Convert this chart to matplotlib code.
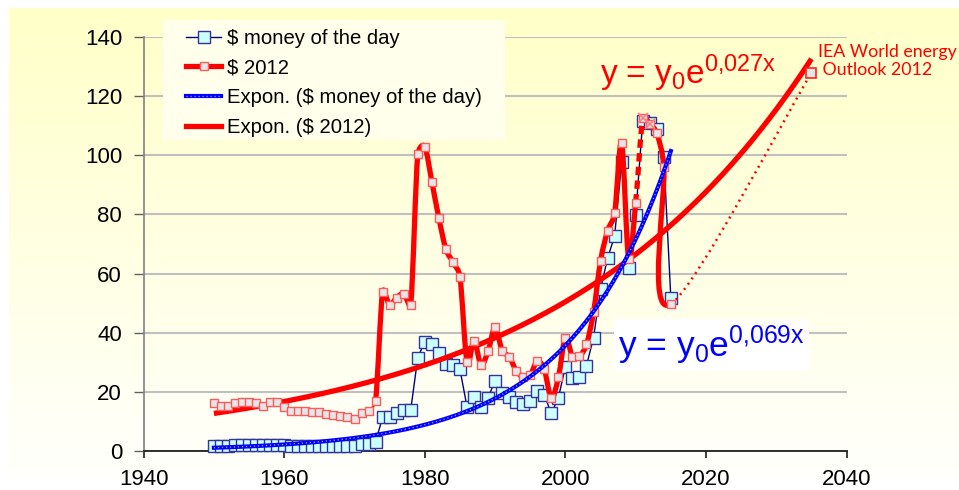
import numpy as np
import matplotlib
matplotlib.use("Agg")
import matplotlib.pyplot as plt
from matplotlib.path import Path
from matplotlib.patches import PathPatch, Rectangle
from matplotlib.lines import Line2D

# ---------------- data ----------------
years = list(range(1950, 2016))
money_of_day = [1.71, 1.71, 1.71, 1.93, 1.93, 1.93, 1.93, 1.90, 2.08, 2.08,
                1.90, 1.80, 1.80, 1.80, 1.80, 1.80, 1.80, 1.80, 1.80, 1.80,
                1.80, 2.24, 2.48, 3.1, 11.4, 11.4, 12.9, 13.9, 13.9, 31.6,
                37.0, 36.1, 33.0, 29.3, 29.1, 27.6, 15.0, 18.4, 15.0, 18.0,
                23.8, 19.7, 18.4, 16.7, 15.9, 17.0, 20.4, 18.9, 12.7, 18.0,
                28.5, 24.6, 24.9, 28.9, 38.3, 54.7, 65.2, 72.7, 97.6, 61.8,
                79.8, 111.7, 111.0, 108.8, 99.3, 51.6]
# $ 2012 series, including the IEA WEO 2012 projection point for 2035
years_2012 = list(range(1950, 2016)) + [2035]
usd_2012 = [16.3, 15.2, 15.2, 16.3, 16.5, 16.5, 16.3, 15.2, 16.7, 16.7,
            15.0, 13.6, 13.6, 13.4, 13.2, 13.2, 12.5, 12.3, 11.8, 11.4,
            10.7, 12.7, 13.6, 17.0, 53.9, 49.4, 51.9, 53.1, 49.5, 100.3,
            102.9, 91.1, 78.7, 68.3, 63.9, 58.9, 30.2, 37.3, 29.1, 33.8,
            41.8, 33.9, 31.9, 27.2, 25.0, 25.7, 30.4, 27.6, 17.8, 24.9,
            38.3, 31.9, 32.1, 36.1, 46.9, 64.3, 74.4, 80.4, 104.1, 65.0,
            84.0, 112.5, 110.7, 107.4, 96.2, 49.7, 127.9]
# exponential trend lines (start value at 1950, growth rate per year)
trend_day_start, trend_day_rate, trend_day_end = 1.1, 0.0696, 2015
trend_2012_start, trend_2012_rate, trend_2012_end = 12.7, 0.0276, 2035

x_ticks = [1940, 1960, 1980, 2000, 2020, 2040]
y_ticks = [0, 20, 40, 60, 80, 100, 120, 140]
legend_labels = ["$ money of the day", "$ 2012",
                 "Expon. ($ money of the day)", "Expon. ($ 2012)"]

# ---------------- figure ----------------
W, H = 959, 490
fig = plt.figure(figsize=(W / 100, H / 100), dpi=100)

# background gradient
bg = np.ones((H, W, 3))
rows = np.arange(H)
t = np.clip((rows - 9) / (475 - 9), 0, 1)
blue_ch = (200 + 52 * t) / 255.0
bg[:, :, 2] = blue_ch[:, None]
bg[:9, :, :] = 1.0
bg[:, :9, :] = 1.0
bg[478:, :, :] = 1.0
bax = fig.add_axes([0, 0, 1, 1], zorder=-10)
bax.imshow(bg, aspect="auto", extent=[0, 1, 0, 1])
bax.set_axis_off()

L, R, T, B = 143.6, 846.6, 37.0, 451.0
ax = fig.add_axes([L / W, (H - B) / H, (R - L) / W, (B - T) / H])
ax.set_facecolor("none")
ax.set_xlim(1940, 2040)
ax.set_ylim(0, 140)
ax.set_xticks(x_ticks)
ax.set_yticks(y_ticks)
font = "Liberation Sans"
for lab in ax.get_xticklabels() + ax.get_yticklabels():
    lab.set_fontfamily(font)
    lab.set_fontsize(16)
ax.tick_params(axis="y", length=7, width=1, color="#606060", pad=8.5)
ax.tick_params(axis="x", length=5, width=1.2, color="#202020", pad=8)
ax.grid(axis="y", color="#C0C0C0", lw=1.5, zorder=0)
ax.set_axisbelow(True)
for s in ["top", "right"]:
    ax.spines[s].set_visible(False)
ax.spines["left"].set_color("#808080")
ax.spines["left"].set_linewidth(1.2)
ax.spines["bottom"].set_color("#202020")
ax.spines["bottom"].set_linewidth(1.3)

# ---------------- $ money of the day ----------------
ax.plot(years, money_of_day, color="#000080", lw=1.0, marker="s", ms=8.6,
        mfc="#CCFFFF", mec="#333399", mew=1.0, zorder=3, clip_on=False)

# ---------------- trend lines ----------------
xd = np.linspace(1950, trend_day_end, 300)
yd = trend_day_start * np.exp(trend_day_rate * (xd - 1950))
xr = np.linspace(1950, trend_2012_end, 300)
yr = trend_2012_start * np.exp(trend_2012_rate * (xr - 1950))
ax.plot(xr, yr, color="#FF0000", lw=3.8, solid_capstyle="butt", zorder=4)
ax.plot(xd, yd, color="#0000FF", lw=3.0, zorder=7)
ax.plot(xd, yd, color="#9999FF", lw=0.9, ls=(0, (1, 2.2)), zorder=7.1)


# ---------------- $ 2012 smoothed line (Bezier, clamped tangents) ----
def smooth_path(xs, ys, i0, i1, k=0.5):
    P = ax.transData.transform(np.column_stack([xs, ys]).astype(float))
    n = len(P)
    inv = ax.transData.inverted()
    arm_out = np.zeros_like(P)
    arm_in = np.zeros_like(P)
    for i in range(n):
        prv = P[max(i - 1, 0)]
        nxt = P[min(i + 1, n - 1)]
        arm = (nxt - prv) / 6.0
        la = np.hypot(*arm)
        dp = np.hypot(*(P[i] - prv))
        dn = np.hypot(*(nxt - P[i]))
        if la > 0:
            arm_out[i] = arm * min(1.0, k * dn / la)
            arm_in[i] = arm * min(1.0, k * dp / la)
    verts = [P[i0]]
    codes = [Path.MOVETO]
    for i in range(i0, i1):
        verts += [P[i] + arm_out[i], P[i + 1] - arm_in[i + 1], P[i + 1]]
        codes += [Path.CURVE4] * 3
    return Path(inv.transform(np.array(verts)), codes)


n2 = len(years_2012)
i1973 = years_2012.index(1973)
i2010 = years_2012.index(2010)
i2011 = years_2012.index(2011)
i2015 = years_2012.index(2015)
segs = [
    (0, i1973, dict(lw=1.4, ls="-")),
    (i1973, i2010, dict(lw=3.8, ls="-")),
    (i2010, i2011, dict(lw=3.8, ls=(0, (1.6, 1.0)))),
    (i2011, i2015, dict(lw=3.8, ls="-")),
    (i2015, n2 - 1, dict(lw=1.8, ls=(0, (0.8, 1.8)))),
]
for a, b, st in segs:
    pp = PathPatch(smooth_path(years_2012, usd_2012, a, b), fill=False,
                   edgecolor="#FF0000", lw=st["lw"], linestyle=st["ls"],
                   capstyle="butt", joinstyle="round", zorder=5,
                   transform=ax.transData)
    ax.add_patch(pp)

ax.plot(years_2012[:-1], usd_2012[:-1], ls="none", marker="s", ms=5.4,
        mfc="#E6E6E6", mec="#FF5A5A", mew=1.0, zorder=6)
ax.plot(years_2012[-1:], usd_2012[-1:], ls="none", marker="s", ms=7.5,
        mfc="#E6E6E6", mec="#FF2020", mew=1.2, zorder=6, clip_on=False)
ix = [i2011, years_2012.index(2012)]
ax.plot([years_2012[i] for i in ix], [usd_2012[i] for i in ix], ls="none",
        marker="x", ms=7, mec="#FF8080", mew=1.2, zorder=6.5)

# ---------------- texts ----------------
plt.rcParams["mathtext.fontset"] = "custom"
plt.rcParams["mathtext.rm"] = font
plt.rcParams["mathtext.it"] = font
fig.text(600 / W, (H - 84) / H, r"y = y$_\mathrm{0}$e$^\mathrm{0{,}027x}$",
         color="#FF0000", fontsize=24, family=font, ha="left", va="baseline")
fig.text(618 / W, (H - 357) / H, r"y = y$_\mathrm{0}$e$^\mathrm{0{,}069x}$",
         color="#0000FF", fontsize=25.5, family=font, ha="left", va="baseline",
         bbox=dict(boxstyle="square,pad=0.12", fc="white", ec="none"))
fig.text(818 / W, (H - 75) / H, "IEA World energy\n Outlook 2012",
         color="#FF0000", fontsize=12.8, family="Lato", ha="left",
         va="baseline", linespacing=1.15)

# ---------------- legend ----------------
ax.add_patch(Rectangle((163 / W, (H - 140) / H), 342 / W, 120 / H,
                       transform=fig.transFigure, fc="#FFFFEC", ec="none",
                       zorder=8, clip_on=False))
h1 = Line2D([], [], color="#000080", lw=1.0, marker="s", ms=8.6,
            mfc="#CCFFFF", mec="#333399", mew=1.0)
h2 = Line2D([], [], color="#FF0000", lw=3.8, marker="s", ms=5.4,
            mfc="#E6E6E6", mec="#FF5A5A", mew=1.0)
h3a = Line2D([], [], color="#0000FF", lw=3.0)
h3b = Line2D([], [], color="#9999FF", lw=0.9, ls=(0, (1, 2.2)))
h4 = Line2D([], [], color="#FF0000", lw=3.8)
leg = ax.legend([h1, h2, (h3a, h3b), h4], legend_labels, loc="upper left",
                bbox_to_anchor=(186 / W, (H - 29) / H),
                bbox_transform=fig.transFigure, frameon=False,
                borderpad=0, borderaxespad=0, handlelength=1.75,
                handletextpad=0.25, labelspacing=0.52,
                prop=dict(family=font, size=14.6))
leg.set_zorder(10)

fig.savefig("out.png", dpi=100)
